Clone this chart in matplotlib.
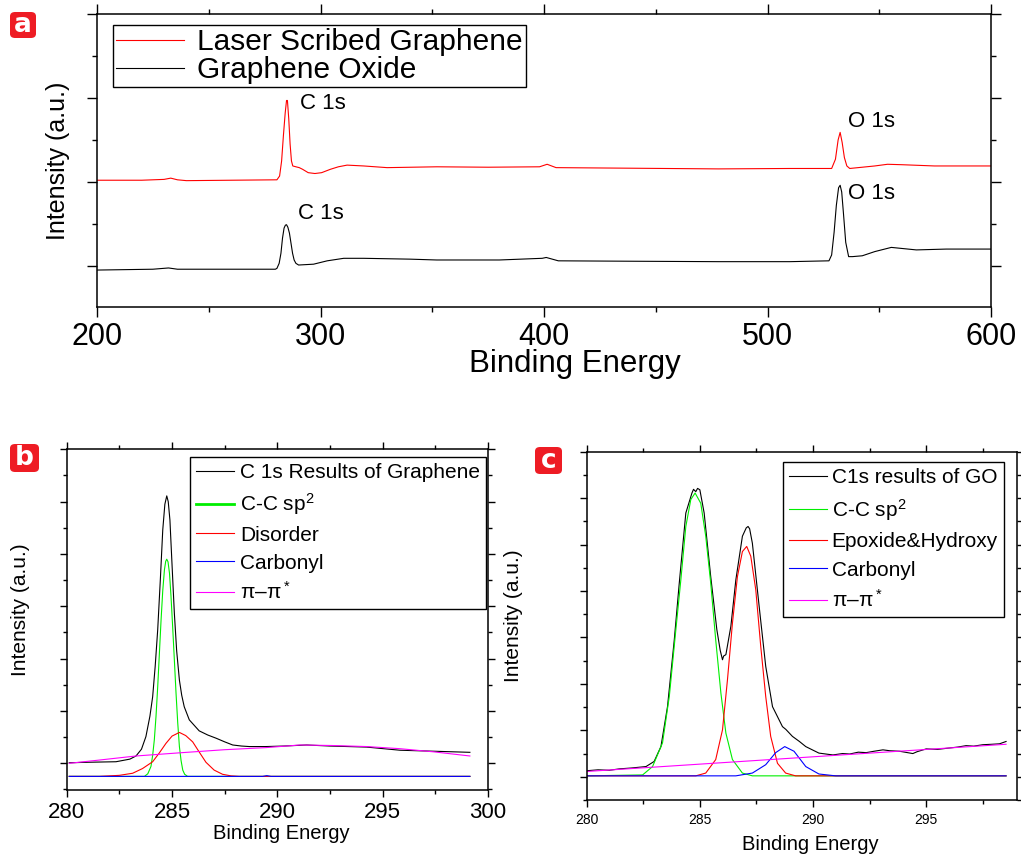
"""XPS survey and C 1s fits of laser scribed graphene and graphene oxide."""

import matplotlib
matplotlib.use("Agg")
import matplotlib.pyplot as plt
from matplotlib.patches import FancyBboxPatch
from matplotlib.ticker import AutoMinorLocator, MultipleLocator

plt.rcParams['font.family'] = ['Liberation Sans', 'DejaVu Sans']
plt.rcParams['mathtext.fontset'] = 'custom'
plt.rcParams['mathtext.rm'] = 'Liberation Sans'
plt.rcParams['mathtext.it'] = 'Liberation Sans:italic'
plt.rcParams['mathtext.bf'] = 'Liberation Sans:bold'

W, H = 1021, 856

# ---- panel a: survey spectra (arb. units)
lsg_x = [200, 220, 230, 233, 236, 240, 260, 280.5, 281.7, 282.6, 283.4, 284.2,
         284.8, 285.2, 285.8, 286.4, 287.0, 287.6, 289.0, 290.5, 292.0, 294.5,
         297.5, 300.5, 304.4, 308, 311.9, 319.3, 329.8, 352, 375, 398, 401.4,
         405.4, 430, 478, 510, 528.7, 530.4, 531.6, 532.5, 533.4, 534.4, 535.5,
         536.8, 542.4, 548, 553.7, 560, 574.7, 600]
lsg_y = [2.02, 2.02, 2.03, 2.045, 2.025, 2.015, 2.02, 2.025, 2.07, 2.25, 2.55,
         2.82, 2.97, 2.97, 2.75, 2.45, 2.25, 2.19, 2.18, 2.17, 2.15, 2.11, 2.10,
         2.11, 2.15, 2.18, 2.20, 2.19, 2.17, 2.18, 2.175, 2.18, 2.21, 2.17,
         2.165, 2.155, 2.16, 2.16, 2.27, 2.50, 2.59, 2.47, 2.29, 2.19, 2.16,
         2.175, 2.19, 2.21, 2.205, 2.19, 2.19]

go_x = [200, 225, 232, 236, 260, 279.8, 280.5, 281.5, 282.3, 283.0, 283.7,
        284.3, 284.8, 285.4, 286.1, 286.8, 287.5, 288.2, 289.0, 290.2, 296.9,
        303, 310.4, 319.3, 340, 352, 380, 399.2, 401, 406.4, 440, 478, 510,
        527.5, 528.7, 529.8, 530.8, 531.8, 532.5, 533.2, 534.0, 535.0, 536.3,
        538, 542.4, 548, 555.4, 566.6, 580, 600]
go_y = [0.95, 0.96, 0.975, 0.96, 0.96, 0.96, 0.97, 1.03, 1.15, 1.33, 1.45,
        1.485, 1.49, 1.46, 1.39, 1.27, 1.15, 1.07, 1.03, 1.01, 1.02, 1.06,
        1.09, 1.09, 1.08, 1.07, 1.07, 1.09, 1.10, 1.06, 1.055, 1.05, 1.05,
        1.06, 1.13, 1.40, 1.72, 1.93, 1.96, 1.88, 1.62, 1.28, 1.11, 1.11,
        1.12, 1.17, 1.22, 1.19, 1.20, 1.20]

# peak labels (x, y, text) for panel a
survey_notes = [(291, 2.93, "C 1s"), (536, 2.72, "O 1s"),
                (290, 1.62, "C 1s"), (536, 1.86, "O 1s")]

# ---- panel b: C 1s fit of laser scribed graphene
b_total_x = [280.12, 281.0, 282.34, 283.0, 283.29, 283.55, 283.76, 283.95,
             284.08, 284.2, 284.32, 284.45, 284.56, 284.66, 284.75, 284.82,
             284.9, 285.0, 285.11, 285.22, 285.35, 285.46, 285.58, 285.82,
             286.29, 286.7, 287.09, 287.5, 287.88, 288.3, 288.67, 289.46,
             290.3, 291.39, 292.5, 294.24, 295.82, 297.5, 299.14]
b_total_y = [1.01, 1.02, 1.03, 1.08, 1.14, 1.27, 1.51, 1.90, 2.27, 2.85, 3.55,
             4.55, 5.46, 5.95, 6.11, 6.00, 5.65, 4.80, 3.87, 3.15, 2.59, 2.30,
             2.08, 1.83, 1.62, 1.54, 1.48, 1.41, 1.35, 1.33, 1.32, 1.32, 1.33,
             1.35, 1.33, 1.31, 1.25, 1.23, 1.21]

b_sp2_x = [280.12, 283.69, 283.85, 284.0, 284.08, 284.16, 284.24, 284.32,
           284.4, 284.48, 284.56, 284.64, 284.7, 284.75, 284.81, 284.88,
           284.95, 285.03, 285.11, 285.19, 285.27, 285.35, 285.43, 285.51,
           285.6, 285.74, 299.14]
b_sp2_y = [0.75, 0.75, 0.80, 0.94, 1.15, 1.45, 1.90, 2.46, 3.10, 3.74, 4.30,
           4.70, 4.86, 4.90, 4.85, 4.63, 4.20, 3.61, 2.98, 2.34, 1.78, 1.32,
           1.05, 0.87, 0.79, 0.75, 0.75]

b_dis_x = [280.12, 281.55, 282.5, 283.13, 283.6, 284.08, 284.4, 284.71,
           285.0, 285.35, 285.65, 285.98, 286.3, 286.61, 287.0, 287.4, 287.8,
           288.19, 299.14]
b_dis_y = [0.75, 0.75, 0.77, 0.81, 0.90, 1.03, 1.20, 1.38, 1.52, 1.59, 1.53,
           1.41, 1.21, 1.02, 0.87, 0.79, 0.76, 0.75, 0.75]

b_carb_x = [280.12, 289.3, 289.5, 289.7, 299.14]
b_carb_y = [0.75, 0.75, 0.765, 0.75, 0.75]

b_pi_x = [280.12, 281.5, 283.29, 285.35, 287.5, 289.46, 291.07, 292.6,
          294.24, 295.8, 297.4, 299.14]
b_pi_y = [1.0, 1.06, 1.14, 1.20, 1.26, 1.30, 1.35, 1.34, 1.32, 1.28, 1.22,
          1.14]

# ---- panel c: C 1s fit of graphene oxide
c_total_x = [280.0, 280.5, 281.0, 281.44, 282.0, 282.62, 282.98, 283.28,
             283.57, 283.87, 284.09, 284.38, 284.65, 284.72, 284.82, 284.9,
             285.0, 285.19, 285.48, 285.75, 285.9, 286.0, 286.05, 286.15,
             286.37, 286.59, 286.88, 287.05, 287.13, 287.2, 287.32, 287.62,
             287.91, 288.21, 288.65, 288.8, 289.09, 289.4, 289.68, 290.26,
             290.88, 291.3, 291.62, 292.0, 292.35, 292.7, 293.09, 293.4,
             293.82, 294.41, 294.6, 295.0, 295.5, 296.03, 296.4, 296.76,
             297.1, 297.5, 297.9, 298.24, 298.53]
c_total_y = [0.13, 0.15, 0.14, 0.17, 0.19, 0.22, 0.33, 0.65, 1.51, 2.95, 4.17,
             5.68, 6.11, 6.19, 6.14, 6.21, 6.18, 5.68, 4.31, 3.17, 2.72, 2.52,
             2.60, 2.63, 3.24, 4.24, 5.18, 5.36, 5.39, 5.34, 5.03, 3.67, 2.38,
             1.51, 1.08, 1.02, 0.87, 0.76, 0.65, 0.51, 0.47, 0.50, 0.49, 0.53,
             0.52, 0.55, 0.58, 0.56, 0.55, 0.50, 0.54, 0.60, 0.59, 0.62, 0.64,
             0.67, 0.66, 0.69, 0.70, 0.71, 0.76]

c_sp2_x = [280.0, 282.47, 282.91, 283.35, 283.65, 283.94, 284.16, 284.38,
           284.6, 284.79, 285.04, 285.26, 285.48, 285.7, 285.93, 286.15,
           286.44, 286.88, 287.32, 298.53]
c_sp2_y = [0.02, 0.04, 0.22, 0.73, 1.73, 3.17, 4.24, 5.39, 5.97, 6.11, 5.89,
           5.18, 4.17, 2.95, 1.80, 0.94, 0.37, 0.08, 0.02, 0.02]

c_epo_x = [280.0, 284.82, 285.26, 285.7, 286.0, 286.22, 286.44, 286.66,
           286.88, 287.07, 287.25, 287.47, 287.69, 287.91, 288.13, 288.43,
           288.79, 289.23, 298.53]
c_epo_y = [0.02, 0.02, 0.08, 0.37, 1.01, 2.09, 3.31, 4.31, 4.85, 4.96, 4.75,
           4.03, 2.81, 1.73, 0.87, 0.29, 0.08, 0.02, 0.02]

c_carb_x = [280.0, 286.59, 287.32, 287.91, 288.35, 288.75, 289.16, 289.68,
            290.26, 291.0, 298.53]
c_carb_y = [0.02, 0.02, 0.08, 0.26, 0.52, 0.65, 0.55, 0.22, 0.06, 0.02, 0.02]

c_pi_x = [280.03, 298.53]
c_pi_y = [0.115, 0.70]

RED, GREEN, BLUE, MAGENTA = '#ff0000', '#00ee00', '#0000ff', '#ff00ff'


def style_axes(ax, major_len, minor_len, labelsize, pad):
    """Origin-like frame: outward ticks on all four sides, no y labels."""
    ax.tick_params(which='both', direction='out', top=True, right=True,
                   width=1.0, labelleft=False, labelright=False)
    ax.tick_params(which='major', length=major_len, labelsize=labelsize,
                   pad=pad)
    ax.tick_params(which='minor', length=minor_len)
    ax.xaxis.set_minor_locator(AutoMinorLocator(2))
    ax.yaxis.set_major_locator(MultipleLocator(1))
    ax.yaxis.set_minor_locator(AutoMinorLocator(2))
    for spine in ax.spines.values():
        spine.set_linewidth(1.1)


def panel_tag(x, y, w, h, letter):
    """Red rounded tag with a white letter, in pixel coordinates."""
    box = FancyBboxPatch((x / W, 1 - (y + h) / H), w / W, h / H,
                         boxstyle='round,pad=0,rounding_size=0.005',
                         transform=fig.transFigure, fc='#ee1c24', ec='none')
    fig.patches.append(box)
    fig.text((x + w / 2) / W, 1 - (y + h / 2) / H, letter, color='white',
             fontsize=19, fontweight='bold', ha='center', va='center',
             family='DejaVu Sans')


fig = plt.figure(figsize=(W / 100, H / 100), dpi=100)

# ---- a
ax_a = fig.add_axes([97 / W, 1 - 307 / H, 894 / W, 293 / H])
ax_a.plot(lsg_x, lsg_y, color=RED, lw=0.8, label='Laser Scribed Graphene')
ax_a.plot(go_x, go_y, color='black', lw=0.8, label='Graphene Oxide')
for x, y, txt in survey_notes:
    ax_a.text(x, y, txt, fontsize=16, ha='left', va='center')
ax_a.set_xlim(200, 600)
ax_a.set_ylim(0.51, 4.0)
ax_a.xaxis.set_major_locator(MultipleLocator(100))
style_axes(ax_a, 7, 3.6, 22, 4)
ax_a.set_xlabel('Binding Energy', fontsize=22.5)
ax_a.xaxis.set_label_coords(0.535, -0.145)
ax_a.set_ylabel('Intensity (a.u.)', fontsize=18)
ax_a.yaxis.set_label_coords(-0.030, 0.5)
leg = ax_a.legend(loc='upper left', bbox_to_anchor=(0.0176, 0.962),
                  borderaxespad=0, fontsize=21.5, frameon=True, fancybox=False,
                  edgecolor='black', framealpha=1, handlelength=2.3,
                  handletextpad=0.42, labelspacing=0.0, borderpad=0.1)
leg.get_frame().set_linewidth(1.0)

# ---- b
ax_b = fig.add_axes([66.7 / W, 1 - 790 / H, 421.3 / W, 340.7 / H])
ax_b.plot(b_total_x, b_total_y, color='black', lw=0.8,
          label='C 1s Results of Graphene')
ax_b.plot(b_sp2_x, b_sp2_y, color=GREEN, lw=0.8, label='C-C sp$^2$')
ax_b.plot(b_dis_x, b_dis_y, color=RED, lw=0.8, label='Disorder')
ax_b.plot(b_carb_x, b_carb_y, color=BLUE, lw=0.8, label='Carbonyl')
ax_b.plot(b_pi_x, b_pi_y, color=MAGENTA, lw=0.8, label='π–π$^*$')
ax_b.set_xlim(280, 300)
ax_b.set_ylim(0.49, 7.0)
ax_b.xaxis.set_major_locator(MultipleLocator(5))
style_axes(ax_b, 5, 3, 16, 3.5)
ax_b.set_xlabel('Binding Energy', fontsize=14.5)
ax_b.xaxis.set_label_coords(0.51, -0.1)
ax_b.set_ylabel('Intensity (a.u.)', fontsize=15)
ax_b.yaxis.set_label_coords(-0.087, 0.53)
leg = ax_b.legend(loc='upper left', bbox_to_anchor=(0.293, 0.977),
                  borderaxespad=0, fontsize=15, frameon=True, fancybox=False,
                  edgecolor='black', framealpha=1, handlelength=1.8,
                  handletextpad=0.3, labelspacing=0.42, borderpad=0.3)
leg.get_frame().set_linewidth(1.0)
leg.get_lines()[1].set_linewidth(2.0)

# ---- c
ax_c = fig.add_axes([586.7 / W, 1 - 800 / H, 430 / W, 348.3 / H])
ax_c.plot(c_total_x, c_total_y, color='black', lw=0.8,
          label='C1s results of GO')
ax_c.plot(c_sp2_x, c_sp2_y, color=GREEN, lw=0.8, label='C-C sp$^2$')
ax_c.plot(c_epo_x, c_epo_y, color=RED, lw=0.8, label='Epoxide&Hydroxy')
ax_c.plot(c_carb_x, c_carb_y, color=BLUE, lw=0.8, label='Carbonyl')
ax_c.plot(c_pi_x, c_pi_y, color=MAGENTA, lw=0.8, label='π–π$^*$')
ax_c.set_xlim(280, 299)
ax_c.set_ylim(-0.5, 7.0)
ax_c.xaxis.set_major_locator(MultipleLocator(5))
style_axes(ax_c, 5, 3, 10, 4)
ax_c.set_xlabel('Binding Energy', fontsize=14.5)
ax_c.xaxis.set_label_coords(0.52, -0.1)
ax_c.set_ylabel('Intensity (a.u.)', fontsize=15)
ax_c.yaxis.set_label_coords(-0.148, 0.53)
leg = ax_c.legend(loc='upper left', bbox_to_anchor=(0.456, 0.971),
                  borderaxespad=0, fontsize=15, frameon=True, fancybox=False,
                  edgecolor='black', framealpha=1, handlelength=1.8,
                  handletextpad=0.25, labelspacing=0.46, borderpad=0.3)
leg.get_frame().set_linewidth(1.0)

panel_tag(10, 12, 26, 26, 'a')
panel_tag(10, 444, 29, 28, 'b')
panel_tag(535, 447, 27, 27, 'c')

fig.savefig('out.png', dpi=100)
